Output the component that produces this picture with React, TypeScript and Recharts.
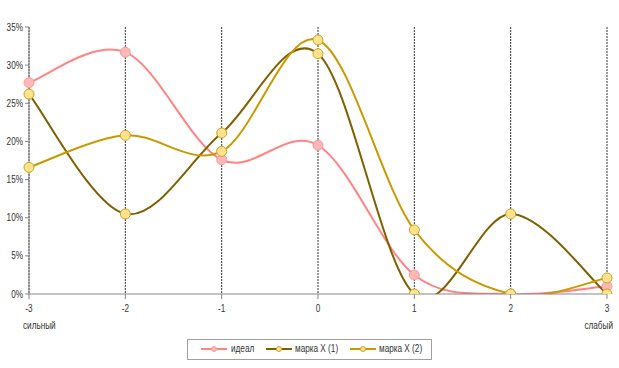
import React from "react";
import {
  LineChart,
  Line,
  XAxis,
  YAxis,
  CartesianGrid,
} from "recharts";

const positions = [-3, -2, -1, 0, 1, 2, 3];
const ideal = [27.7, 31.7, 17.6, 19.5, 2.5, 0, 1.0];
const markX1 = [26.2, 10.5, 21.1, 31.5, 0, 10.5, 0];
const markX2 = [16.6, 20.8, 18.7, 33.3, 8.4, 0, 2.1];
const yTicks = [0, 5, 10, 15, 20, 25, 30, 35];
const seriesNames = ["идеал", "марка X (1)", "марка X (2)"];

const data = positions.map((p, i) => ({
  pos: p,
  ideal: ideal[i],
  x1: markX1[i],
  x2: markX2[i],
}));

const font = "'Liberation Sans', Arial, sans-serif";
const textColor = "#333";
const axisColor = "#868686";
const squeeze = 0.82;

// Excel-like smoothing (Catmull-Rom through every point)
function smoothCurve(context: any) {
  let pts: Array<[number, number]> = [];
  return {
    areaStart() {},
    areaEnd() {},
    lineStart() {
      pts = [];
    },
    point(x: number, y: number) {
      pts.push([+x, +y]);
    },
    lineEnd() {
      if (!pts.length) return;
      context.moveTo(pts[0][0], pts[0][1]);
      for (let i = 0; i < pts.length - 1; i++) {
        const p0 = pts[Math.max(0, i - 1)];
        const p1 = pts[i];
        const p2 = pts[i + 1];
        const p3 = pts[Math.min(pts.length - 1, i + 2)];
        context.bezierCurveTo(
          p1[0] + (p2[0] - p0[0]) / 6,
          p1[1] + (p2[1] - p0[1]) / 6,
          p2[0] - (p3[0] - p1[0]) / 6,
          p2[1] - (p3[1] - p1[1]) / 6,
          p2[0],
          p2[1]
        );
      }
    },
  };
}

const colors = {
  ideal: { line: "#FF8585", dotFill: "#FFB7B7", dotStroke: "#F59C9C" },
  x1: { line: "#7F6000", dotFill: "#FFE38C", dotStroke: "#C9A227" },
  x2: { line: "#C99A00", dotFill: "#FFE38C", dotStroke: "#C9A227" },
};

function NarrowText({ x, y, anchor, children }: any) {
  return (
    <text
      transform={`translate(${x},${y}) scale(${squeeze},1)`}
      textAnchor={anchor}
      fontSize={10}
      fill={textColor}
      fontFamily={font}
    >
      {children}
    </text>
  );
}

function XTick(props: any) {
  const { x, y, payload } = props;
  return (
    <g>
      <line x1={x} x2={x} y1={y - 8} y2={y - 3} stroke={axisColor} />
      <NarrowText x={x} y={y + 10} anchor="middle">
        {payload.value}
      </NarrowText>
      {payload.value === -3 && (
        <NarrowText x={x - 6} y={y + 27} anchor="start">
          сильный
        </NarrowText>
      )}
      {payload.value === 3 && (
        <NarrowText x={x + 6} y={y + 27} anchor="end">
          слабый
        </NarrowText>
      )}
    </g>
  );
}

function YTick(props: any) {
  const { x, y, payload } = props;
  return (
    <NarrowText x={x} y={y + 3.5} anchor="end">
      {`${payload.value}%`}
    </NarrowText>
  );
}

const legendLayout = [
  { line: 13, text: 43 },
  { line: 78, text: 107 },
  { line: 162, text: 191 },
];

function LegendBox() {
  const keys = ["ideal", "x1", "x2"] as const;
  return (
    <div
      style={{
        position: "absolute",
        left: 187,
        top: 339,
        border: "1px solid #a0a0a0",
        height: 21,
        width: 245,
        boxSizing: "border-box",
        fontFamily: font,
        fontSize: 10,
        color: textColor,
        whiteSpace: "nowrap",
      }}
    >
      {keys.map((k, i) => (
        <React.Fragment key={k}>
          <svg
            width={26}
            height={10}
            style={{ position: "absolute", left: legendLayout[i].line, top: 4 }}
          >
            <line x1={0} x2={26} y1={5} y2={5} stroke={colors[k].line} strokeWidth={2} />
            <circle cx={13} cy={5} r={2.5} fill={colors[k].dotFill} stroke={colors[k].dotStroke} />
          </svg>
          <span
            style={{
              position: "absolute",
              left: legendLayout[i].text,
              top: 3,
              transform: `scaleX(${squeeze})`,
              transformOrigin: "left",
            }}
          >
            {seriesNames[i]}
          </span>
        </React.Fragment>
      ))}
    </div>
  );
}

export default function App() {
  const dot = (k: keyof typeof colors) => ({
    r: 5,
    fill: colors[k].dotFill,
    stroke: colors[k].dotStroke,
    strokeWidth: 1,
  });
  return (
    <div style={{ position: "absolute", left: 0, top: 0, width: 619, height: 368, background: "#fff" }}>
      <LineChart
        width={619}
        height={368}
        data={data}
        margin={{ top: 27, right: 12, left: 0, bottom: 0 }}
      >
        <CartesianGrid horizontal={false} stroke="#000" strokeDasharray="2 1" strokeWidth={0.8} />
        <XAxis
          dataKey="pos"
          type="number"
          domain={[-3, 3]}
          ticks={positions}
          stroke={axisColor}
          tickLine={false}
          tick={<XTick />}
          interval={0}
          height={74}
        />
        <YAxis
          width={29}
          domain={[0, 35]}
          ticks={yTicks}
          allowDataOverflow
          stroke={axisColor}
          tickSize={4}
          tick={<YTick />}
          interval={0}
        />
        <Line
          dataKey="ideal"
          name={seriesNames[0]}
          type={smoothCurve as any}
          stroke={colors.ideal.line}
          strokeWidth={2}
          dot={dot("ideal")}
          isAnimationActive={false}
        />
        <Line
          dataKey="x1"
          name={seriesNames[1]}
          type={smoothCurve as any}
          stroke={colors.x1.line}
          strokeWidth={2}
          dot={dot("x1")}
          isAnimationActive={false}
        />
        <Line
          dataKey="x2"
          name={seriesNames[2]}
          type={smoothCurve as any}
          stroke={colors.x2.line}
          strokeWidth={2}
          dot={dot("x2")}
          isAnimationActive={false}
        />
      </LineChart>
      <LegendBox />
    </div>
  );
}
